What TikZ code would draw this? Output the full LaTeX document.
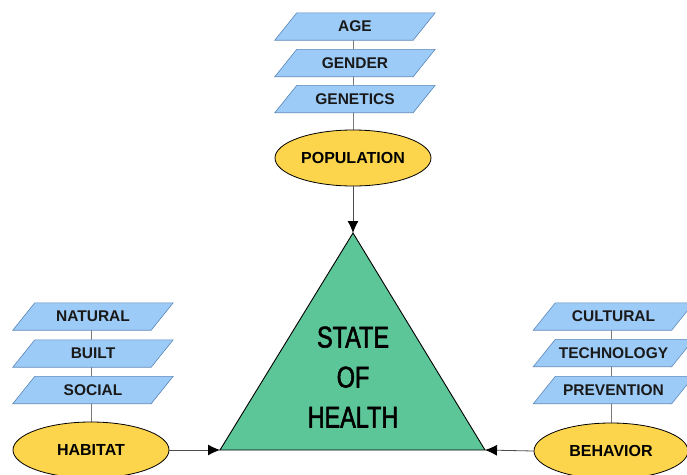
\documentclass[tikz,border=0pt]{standalone}
\usepackage{fontspec}
\setmainfont{Liberation Sans}
\newfontfamily\narrowfont[FakeStretch=0.78,FakeBold=1.8]{Liberation Sans}
\usetikzlibrary{shapes.geometric,arrows.meta,backgrounds}
\definecolor{parafill}{HTML}{9DCBF7}
\definecolor{paradraw}{HTML}{5B87B8}
\definecolor{ellfill}{HTML}{FCD54C}
\definecolor{trifill}{HTML}{5DC699}
\definecolor{linkgray}{HTML}{7A7A7A}
\tikzset{
  paratext/.style={rectangle, minimum width=138pt, minimum height=27pt,
    inner sep=0pt, font=\fontsize{15.5}{16}\selectfont\bfseries, text=black!90},
  parashape/.style={fill=parafill, draw=paradraw, line width=0.6pt},
  oval/.style={ellipse, fill=ellfill, draw=black, line width=0.8pt,
    minimum width=156pt, minimum height=56pt, inner sep=0pt,
    font=\fontsize{16}{17}\selectfont\bfseries},
  link/.style={draw=linkgray, line width=0.9pt},
  arrowlink/.style={draw=black!70, line width=0.8pt, -{Latex[length=12pt,width=11pt,color=black]}},
}
\newcommand{\parabox}[4]{%
  \node[paratext] (#1) at (#2,#3) {};
  \path[parashape] ([xshift=-11pt]#1.south west) -- ([xshift=-11pt]#1.south east)
    -- ([xshift=11pt]#1.north east) -- ([xshift=11pt]#1.north west) -- cycle;
  \node[paratext] at (#1.center) {#4};
}
\begin{document}
\begin{tikzpicture}[x=1pt,y={(0pt,-1pt)}]
\useasboundingbox (0,0) rectangle (687,474);
\clip (0,0) rectangle (687,474);
% top stack
\parabox{age}{355}{26.5}{AGE}
\parabox{gender}{355}{63}{GENDER}
\parabox{genetics}{355}{99}{GENETICS}
\node[oval] (pop) at (353,158) {POPULATION};
% left stack
\parabox{natural}{93}{316.5}{NATURAL}
\parabox{built}{93}{353.5}{BUILT}
\parabox{social}{93}{390}{SOCIAL}
\node[oval] (habitat) at (91,450) {HABITAT};
% right stack
\parabox{cultural}{613.5}{316.5}{CULTURAL}
\parabox{technology}{613.5}{353}{TECHNOLOGY}
\parabox{prevention}{613.5}{390}{PREVENTION}
\node[oval,minimum width=154pt] (behavior) at (611,451) {BEHAVIOR};
% connectors behind the stacks
\begin{pgfonlayer}{background}
\draw[link] (pop.center) -- (pop.center |- age.center);
\draw[link] (habitat.center) -- (habitat.center |- natural.center);
\draw[link] (behavior.center) -- (behavior.center |- cultural.center);
\end{pgfonlayer}
% triangle
\coordinate (apex) at (353,233);
\coordinate (bl) at (220,450);
\coordinate (br) at (485,450);
\draw[fill=trifill, draw=black, line width=0.9pt, line join=miter] (apex) -- (br) -- (bl) -- cycle;
\node[font=\narrowfont\fontsize{30}{40}\selectfont, align=center] (health) at (353,377)
  {STATE\\OF\\HEALTH};
% arrows
\draw[arrowlink] (pop.south) -- (apex);
\draw[arrowlink] (habitat.east) -- (bl);
\draw[arrowlink] (behavior.west) -- (br);
\end{tikzpicture}
\end{document}
